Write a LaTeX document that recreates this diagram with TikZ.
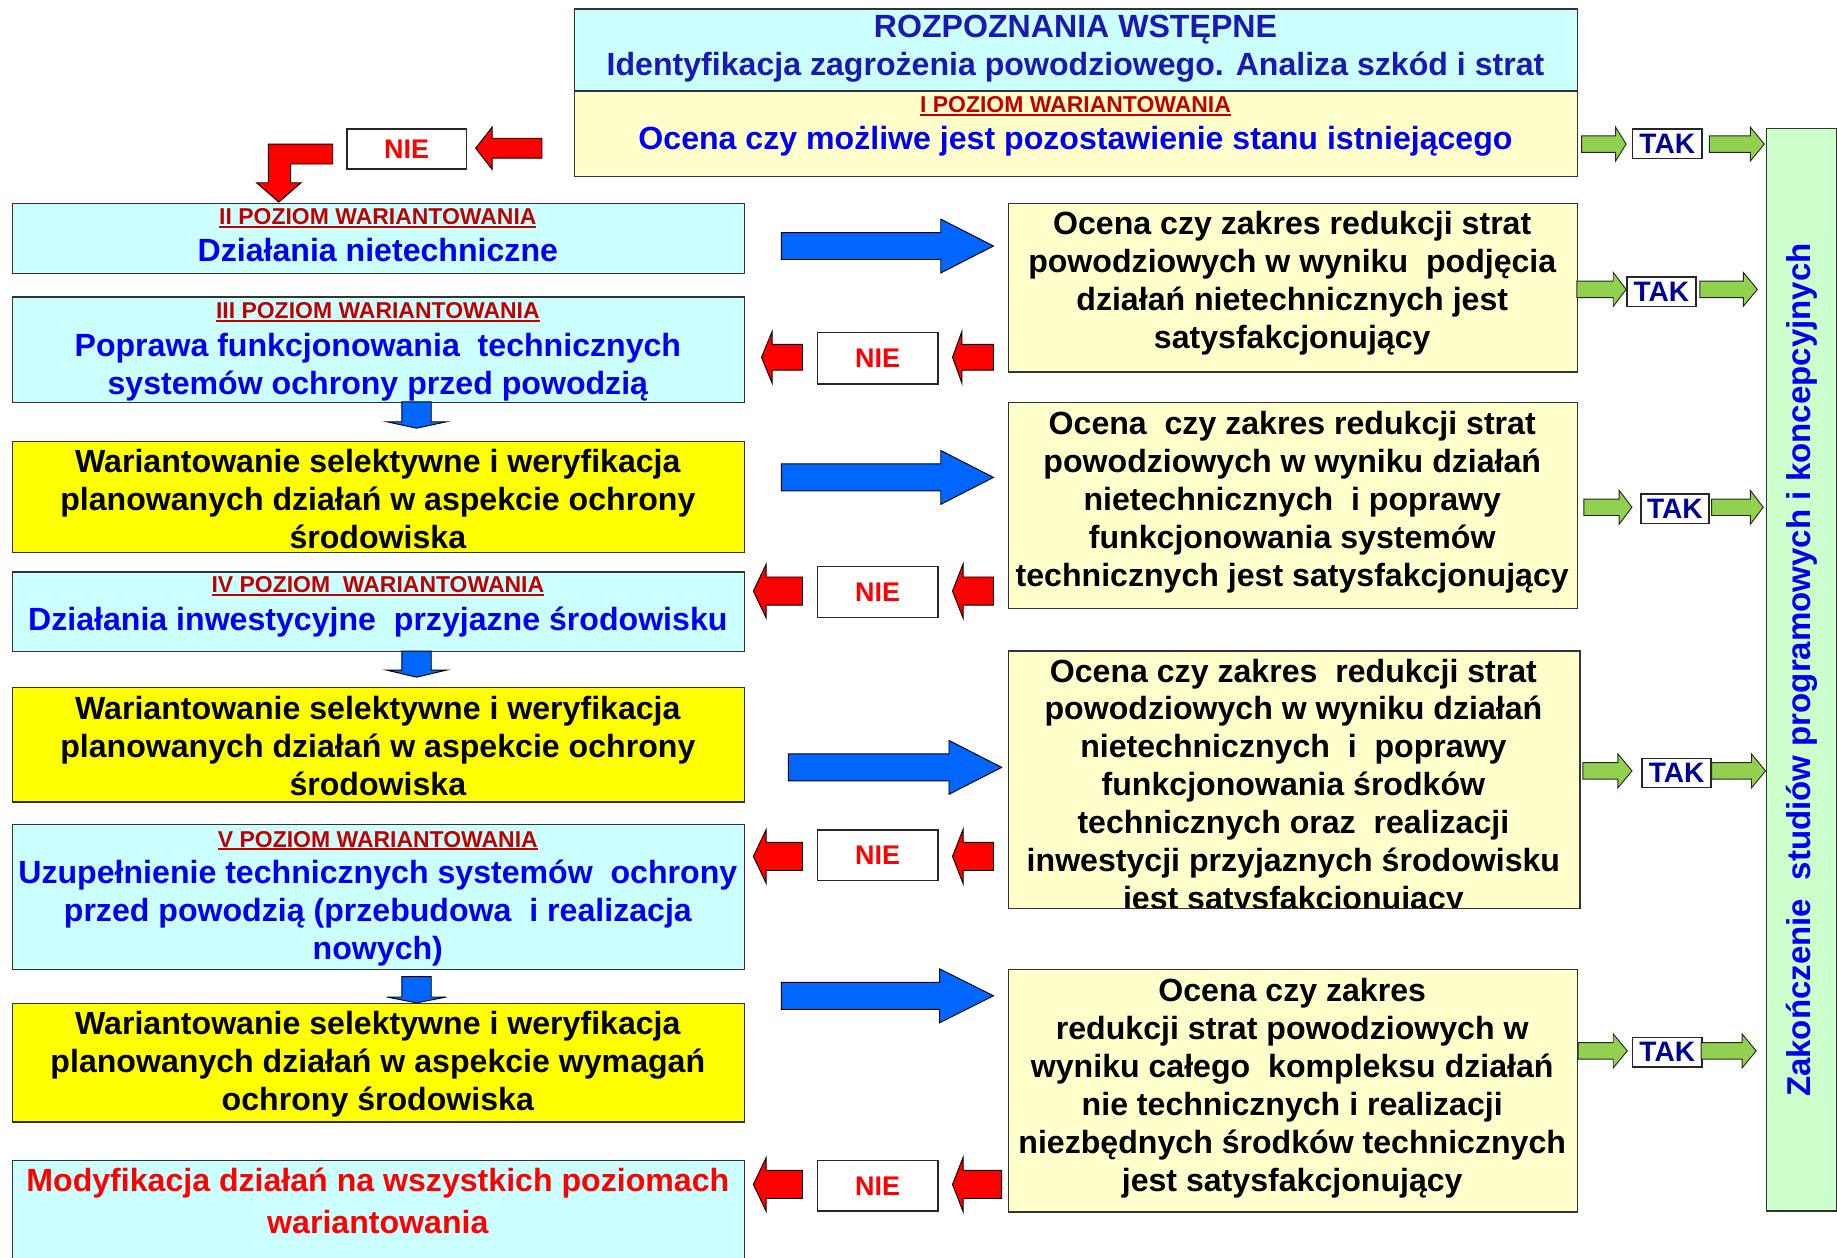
\documentclass[tikz,border=0pt]{standalone}
\usepackage{fontspec}
\setmainfont{Liberation Sans}
\definecolor{cyanL}{HTML}{CCFFFF}
\definecolor{yelL}{HTML}{FFFFCC}
\definecolor{yel}{HTML}{FFFF00}
\definecolor{grnL}{HTML}{CCFFCC}
\definecolor{txtblue}{HTML}{0000F0}
\definecolor{topblue}{HTML}{1A1AB0}
\definecolor{hdrred}{HTML}{C00000}
\definecolor{niered}{HTML}{FF0000}
\definecolor{takblue}{HTML}{000099}
\definecolor{arrblue}{HTML}{0066FF}
\definecolor{arrgreen}{HTML}{92D050}
\definecolor{arrred}{HTML}{FF0000}
\newcommand{\fstrut}{\rule{0pt}{23pt}}
\newcommand{\hul}[1]{\setbox0\hbox{#1}\rlap{\rule[-2.8pt]{\wd0}{1.6pt}}\box0}
% horizontal block arrow: style, tail x, head base x, tip x, y, shaft half, head half
\newcommand{\hblock}[7]{\draw[#1] (#2,#5-#6) -- (#3,#5-#6) -- (#3,#5-#7) -- (#4,#5) -- (#3,#5+#7) -- (#3,#5+#6) -- (#2,#5+#6) -- cycle;}
% vertical block arrow: style, x, top y, head base y, tip y, shaft half, head half
\newcommand{\vblock}[7]{\draw[#1] (#2-#6,#3) -- (#2-#6,#4) -- (#2-#7,#4) -- (#2,#5) -- (#2+#7,#4) -- (#2+#6,#4) -- (#2+#6,#3) -- cycle;}
\tikzset{
  bx/.style={draw=black!80, line width=1.2pt, inner sep=0pt, anchor=north west},
  wbx/.style={draw=black!85, line width=1.2pt, fill=white, inner sep=0pt, anchor=north west},
  tml/.style={inner sep=0pt, align=center, anchor=north, font=\fontsize{27.4}{32.3}\selectfont\bfseries},
  tsl/.style={inner sep=0pt, anchor=base, font=\fontsize{27.4}{32.3}\selectfont\bfseries},
  hdr/.style={inner sep=0pt, anchor=base, text=hdrred, font=\fontsize{19.6}{22}\selectfont\bfseries},
  niet/.style={text=niered, font=\fontsize{23}{25}\selectfont\bfseries},
  takt/.style={text=takblue, font=\fontsize{24}{26}\selectfont\bfseries},
  redA/.style={fill=arrred, draw=black, line width=0.8pt, line join=miter},
  blueA/.style={fill=arrblue, draw=black, line width=0.8pt, line join=miter},
  greenA/.style={fill=arrgreen, draw=black!85, line width=0.8pt, line join=miter},
}
\begin{document}
\begin{tikzpicture}[x=1pt, y=-1pt]
\useasboundingbox (0,0) rectangle (1568,1073);
% ---------- boxes ----------
\node[bx, fill=cyanL, minimum width=856pt, minimum height=70pt] (n1a) at (490,7) {};
\node[bx, fill=yelL, minimum width=856pt, minimum height=73pt] (n1b) at (490,77) {};
\node[bx, fill=cyanL, minimum width=625pt, minimum height=60pt] (n2) at (10,173) {};
\node[bx, fill=cyanL, minimum width=625pt, minimum height=90pt] (n3) at (10,253) {};
\node[bx, fill=yel, minimum width=625pt, minimum height=95pt] (y1) at (10,376) {};
\node[bx, fill=cyanL, minimum width=625pt, minimum height=68pt] (n4) at (10,487.5) {};
\node[bx, fill=yel, minimum width=625pt, minimum height=98pt] (y2) at (10,586) {};
\node[bx, fill=cyanL, minimum width=625pt, minimum height=124pt] (n5) at (10,703) {};
\node[bx, fill=yel, minimum width=625pt, minimum height=101pt] (y3) at (10,856) {};
\node[bx, fill=cyanL, minimum width=625pt, minimum height=100pt] (nmod) at (10,990) {};
\node[bx, fill=yelL, minimum width=486pt, minimum height=144pt] (r1) at (860,173) {};
\node[bx, fill=yelL, minimum width=486pt, minimum height=176pt] (r2) at (860,343) {};
\node[bx, fill=yelL, minimum width=488pt, minimum height=220pt] (r3) at (860,555) {};
\node[bx, fill=yelL, minimum width=486pt, minimum height=207pt] (r4) at (860,827) {};
\node[bx, fill=grnL, minimum width=60pt, minimum height=924pt] (fin) at (1507,109) {};
% ---------- NIE / TAK boxes ----------
\node[wbx, niet, minimum width=102pt, minimum height=34pt] (nie0) at (295.5,109.5) {NIE};
\node[wbx, niet, minimum width=103pt, minimum height=44pt] (nie1) at (697,283) {NIE};
\node[wbx, niet, minimum width=103pt, minimum height=43.5pt] (nie2) at (697,483) {NIE};
\node[wbx, niet, minimum width=103pt, minimum height=43pt] (nie3) at (697,708) {NIE};
\node[wbx, niet, minimum width=103pt, minimum height=43pt] (nie4) at (697,990) {NIE};
\node[wbx, takt, minimum width=59pt, minimum height=25pt] (tak1) at (1393,109.5) {TAK};
\node[wbx, takt, minimum width=59pt, minimum height=25pt] (tak2) at (1388,236) {TAK};
\node[wbx, takt, minimum width=58pt, minimum height=25pt] (tak3) at (1400,421) {TAK};
\node[wbx, takt, minimum width=59pt, minimum height=24.5pt] (tak4) at (1401,647) {TAK};
\node[wbx, takt, minimum width=59pt, minimum height=25pt] (tak5) at (1393,885) {TAK};
% ---------- texts ----------
\node[tml, text=topblue] (t1a) at (918,9) {\fstrut ROZPOZNANIA WSTĘPNE\\Identyfikacja zagrożenia powodziowego. Analiza szkód i strat};
\node[hdr] (h1) at (918,96) {\hul{I POZIOM WARIANTOWANIA}};
\node[tsl, text=txtblue] (t1b) at (918,128) {Ocena czy możliwe jest pozostawienie stanu istniejącego};
\node[hdr] (h2) at (322.5,192) {\hul{II POZIOM WARIANTOWANIA}};
\node[tsl, text=txtblue] (t2) at (322.5,223) {Działania nietechniczne};
\node[hdr] (h3) at (322.5,272) {\hul{III POZIOM WARIANTOWANIA}};
\node[tml, text=txtblue] (t3) at (322.5,281) {\fstrut Poprawa funkcjonowania~ technicznych\\systemów ochrony przed powodzią};
\node[tml] (ty1) at (322.5,380) {\fstrut Wariantowanie selektywne i weryfikacja\\planowanych działań w aspekcie ochrony\\środowiska};
\node[hdr] (h4) at (322.5,506) {\hul{IV POZIOM~ WARIANTOWANIA}};
\node[tsl, text=txtblue] (t4) at (322.5,538) {Działania inwestycyjne~ przyjazne środowisku};
\node[tml] (ty2) at (322.5,591) {\fstrut Wariantowanie selektywne i weryfikacja\\planowanych działań w aspekcie ochrony\\środowiska};
\node[hdr] (h5) at (322.5,723) {\hul{V POZIOM WARIANTOWANIA}};
\node[tml, text=txtblue] (t5) at (322.5,731) {\fstrut Uzupełnienie technicznych systemów~ ochrony\\przed powodzią (przebudowa~ i realizacja\\nowych)};
\node[tml] (ty3) at (322.5,860) {\fstrut Wariantowanie selektywne i weryfikacja\\planowanych działań w aspekcie wymagań\\ochrony środowiska};
\node[tml, text=niered, font=\fontsize{27.4}{36}\selectfont\bfseries] (tmod) at (322.5,994) {\fstrut Modyfikacja działań na wszystkich poziomach\\wariantowania};
\node[tml] (tr1) at (1103,177) {\fstrut Ocena czy zakres redukcji strat\\powodziowych w wyniku~ podjęcia\\działań nietechnicznych jest\\satysfakcjonujący};
\node[tml] (tr2) at (1103,348) {\fstrut Ocena~ czy zakres redukcji strat\\powodziowych w wyniku działań\\nietechnicznych~ i poprawy\\funkcjonowania systemów\\technicznych jest satysfakcjonujący};
\begin{scope}
\clip (860,555) rectangle (1348,775);
\node[tml] (tr3) at (1104,559) {\fstrut Ocena czy zakres~ redukcji strat\\powodziowych w wyniku działań\\nietechnicznych~ i~ poprawy\\funkcjonowania środków\\technicznych oraz~ realizacji\\inwestycji przyjaznych środowisku\\jest satysfakcjonujący};
\end{scope}
\node[tml] (tr4) at (1103,832) {\fstrut Ocena czy zakres\\redukcji strat powodziowych w\\wyniku całego~ kompleksu działań\\nie technicznych i realizacji\\niezbędnych środków technicznych\\jest satysfakcjonujący};
\node[inner sep=0pt, rotate=90, text=txtblue, font=\fontsize{28.2}{32}\selectfont\bfseries] (tfin) at (1538,572) {Zakończenie~ studiów programowych i koncepcyjnych};
% ---------- red arrows ----------
\draw[redA] (284,123) -- (229,123) -- (229,156) -- (219,156) -- (238,172.5) -- (257,156) -- (248,156) -- (248,140) -- (284,140) -- cycle;
\hblock{redA}{462.6}{420}{406}{126.5}{8.5}{18}
\hblock{redA}{848}{821}{813}{305}{11}{22}
\hblock{redA}{685}{659}{650}{305}{11}{22}
\hblock{redA}{848}{822}{813}{504.5}{12}{23}
\hblock{redA}{685}{654}{643}{504.5}{12}{23}
\hblock{redA}{848}{822}{813}{731}{12}{23}
\hblock{redA}{685}{654}{643}{731}{12}{23}
\hblock{redA}{855}{822}{813}{1011}{12}{23}
\hblock{redA}{685}{654}{643}{1011}{12}{23}
% ---------- blue arrows ----------
\hblock{blueA}{667}{803}{848}{210}{11.5}{23}
\hblock{blueA}{667}{803}{848}{407.5}{11.5}{23}
\hblock{blueA}{673}{810}{855}{655}{11.5}{23}
\hblock{blueA}{667}{802}{848}{850}{11.5}{23}
\vblock{blueA}{355.6}{343}{360}{365.5}{12.5}{25.5}
\vblock{blueA}{355.6}{555.7}{572}{578}{12.5}{25.5}
\vblock{blueA}{355.6}{833.6}{851}{856}{12.5}{25.5}
% ---------- green arrows ----------
\hblock{greenA}{1350}{1379}{1388}{123}{7}{14.5}
\hblock{greenA}{1459}{1494}{1506}{123}{7}{14.5}
\hblock{greenA}{1346}{1377}{1388}{247}{7}{14.5}
\hblock{greenA}{1451}{1488}{1500}{247}{7}{14.5}
\hblock{greenA}{1352}{1382}{1393}{433}{7}{14.5}
\hblock{greenA}{1461}{1494}{1505}{433}{7}{14.5}
\hblock{greenA}{1351}{1381}{1393}{658}{7}{14.5}
\hblock{greenA}{1461}{1495}{1507}{658}{7}{14.5}
\hblock{greenA}{1347}{1377}{1389}{897}{7}{14.5}
\hblock{greenA}{1452}{1487}{1499}{897}{7}{14.5}
\end{tikzpicture}
\end{document}
